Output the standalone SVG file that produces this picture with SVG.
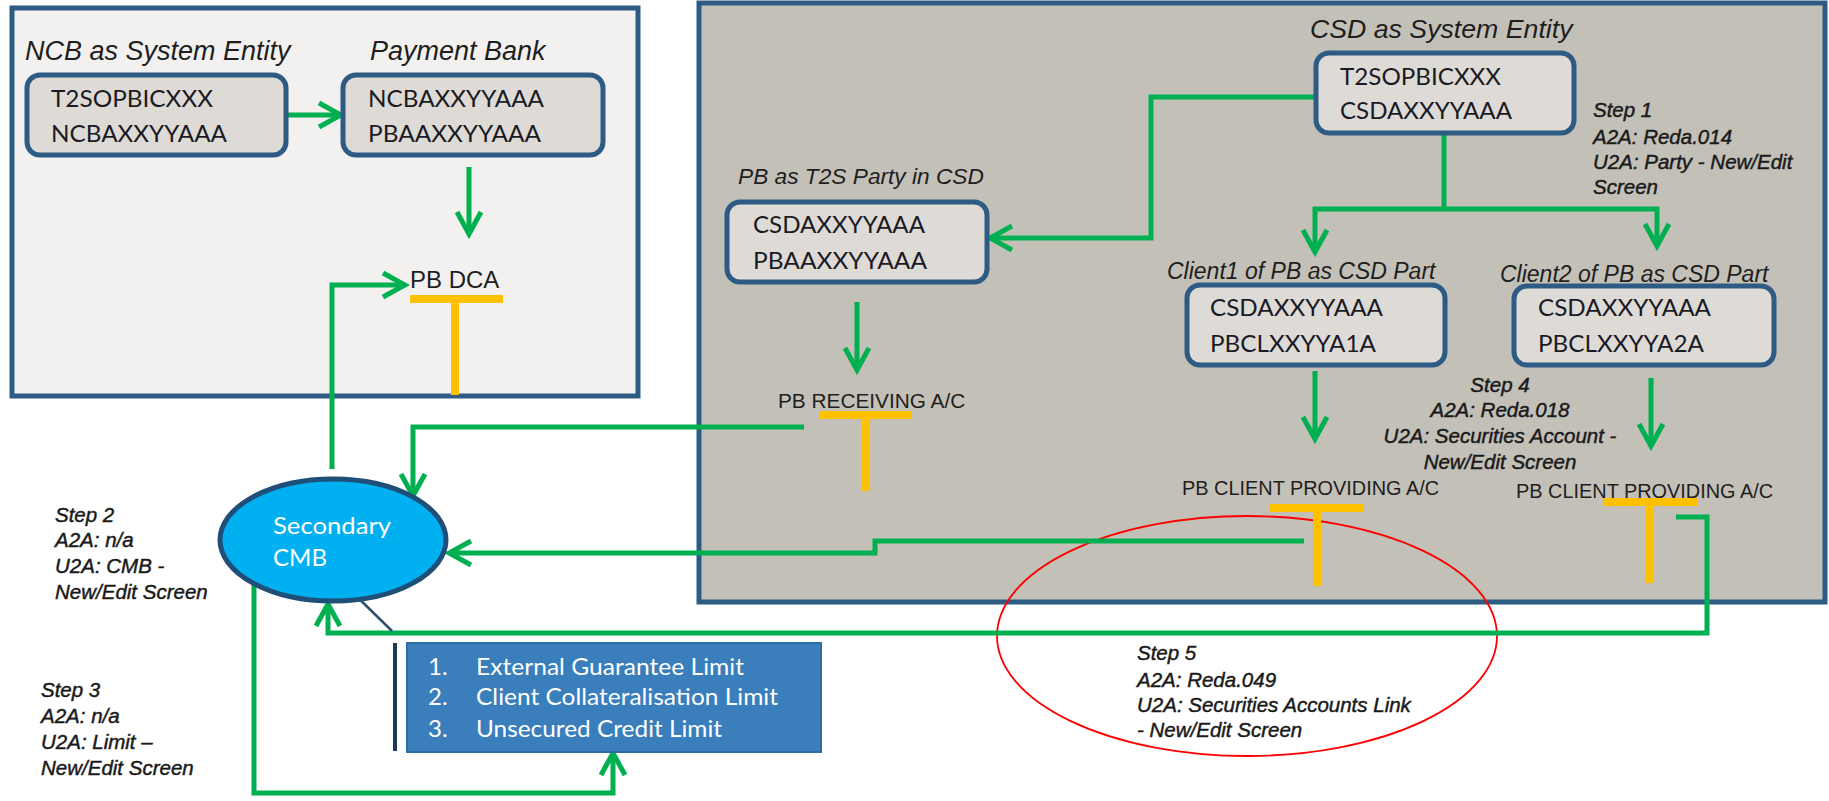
<svg xmlns="http://www.w3.org/2000/svg" width="1829" height="801" viewBox="0 0 1829 801">
<style>
.panel{stroke:#2e5b84;stroke-width:5}
.box{fill:#dedbd6;stroke:#2e5b84;stroke-width:5}
.bt{font-family:Lato,"Open Sans",sans-serif;font-size:24px;fill:#1a1a24}
.title{font-family:"Liberation Sans",Arial,sans-serif;font-style:italic;fill:#1e1e1e}
.lbl{font-family:"Liberation Sans",Arial,sans-serif;fill:#1e1e1e}
.step{font-family:"Liberation Sans",Arial,sans-serif;font-style:italic;font-size:20.5px;fill:#1a1a1a;stroke:#1a1a1a;stroke-width:0.45}
.g{fill:none;stroke:#00b050;stroke-width:5}
.ga{fill:none;stroke:#00b050;stroke-width:5;marker-end:url(#arr)}
.o{fill:none;stroke:#ffc000;stroke-width:8}
.wt{font-family:Lato,"Open Sans",sans-serif;font-size:24px;fill:#ffffff}
</style>
<defs>
<marker id="arr" markerUnits="userSpaceOnUse" viewBox="0 0 30 30" refX="25" refY="15" markerWidth="30" markerHeight="30" orient="auto">
<path d="M3,3 L25,15 L3,27" fill="none" stroke="#00b050" stroke-width="5" stroke-linejoin="miter"/>
</marker>
</defs>
<rect width="1829" height="801" fill="#ffffff"/>
<g id="ncb-panel">
<rect class="panel" x="12" y="8" width="626" height="388" fill="#f2f1ef"/>
</g>
<g id="csd-panel">
<rect class="panel" x="699" y="3" width="1126" height="599" fill="#c3c0b8"/>
</g>
<g id="step5-highlight">
<ellipse cx="1247" cy="636" rx="250" ry="120" fill="none" stroke="#ff0000" stroke-width="1.8"/>
</g>
<g id="connectors">
<path class="ga" d="M286,115 L341,115"/>
<path class="ga" d="M469,167 L469,234"/>
<path class="ga" d="M332,469 L332,285 L405,285"/>
<path class="ga" d="M1316,97 L1151,97 L1151,238 L990,238"/>
<path class="g" d="M1444,133 L1444,209"/>
<path class="ga" d="M1444,209 L1315,209 L1315,252"/>
<path class="ga" d="M1444,209 L1657,209 L1657,246"/>
<path class="ga" d="M857,302 L857,370"/>
<path class="ga" d="M1315,371 L1315,439"/>
<path class="ga" d="M1651,378 L1651,446"/>
<path class="ga" d="M804,427 L413,427 L413,496"/>
<path class="ga" d="M1304,541 L875,541 L875,553 L449,553"/>
<path class="ga" d="M1676,517 L1707,517 L1707,633 L328,633 L328,604"/>
<path class="ga" d="M254,583 L254,793 L613,793 L613,753"/>
<path d="M345,585 L392,631" stroke="#2f4f6f" stroke-width="2.5" fill="none"/>
</g>
<g id="ncb-system-entity">
<text class="title" x="25" y="60" font-size="27">NCB as System Entity</text>
<rect class="box" x="27" y="75" width="259" height="80" rx="13"/>
<text class="bt" x="51" y="107" textLength="162" lengthAdjust="spacingAndGlyphs">T2SOPBICXXX</text>
<text class="bt" x="51" y="142" textLength="176" lengthAdjust="spacingAndGlyphs">NCBAXXYYAAA</text>
</g>
<g id="payment-bank">
<text class="title" x="370" y="60" font-size="27">Payment Bank</text>
<rect class="box" x="343" y="75" width="260" height="80" rx="13"/>
<text class="bt" x="368" y="107" textLength="176" lengthAdjust="spacingAndGlyphs">NCBAXXYYAAA</text>
<text class="bt" x="368" y="142" textLength="173" lengthAdjust="spacingAndGlyphs">PBAAXXYYAAA</text>
</g>
<g id="pb-dca">
<text class="lbl" x="410" y="288" font-size="24">PB DCA</text>
<path class="o" d="M410,299 H503 M455,299 V395"/>
</g>
<g id="csd-system-entity">
<text class="title" x="1310" y="38" font-size="26.7">CSD as System Entity</text>
<rect class="box" x="1316" y="53" width="258" height="80" rx="13"/>
<text class="bt" x="1340" y="85" textLength="161" lengthAdjust="spacingAndGlyphs">T2SOPBICXXX</text>
<text class="bt" x="1340" y="119" textLength="172" lengthAdjust="spacingAndGlyphs">CSDAXXYYAAA</text>
</g>
<g id="pb-t2s-party">
<text class="title" x="738" y="184" font-size="22.7">PB as T2S Party in CSD</text>
<rect class="box" x="727" y="202" width="260" height="80" rx="13"/>
<text class="bt" x="753" y="233" textLength="172" lengthAdjust="spacingAndGlyphs">CSDAXXYYAAA</text>
<text class="bt" x="753" y="269" textLength="174" lengthAdjust="spacingAndGlyphs">PBAAXXYYAAA</text>
</g>
<g id="client1">
<text class="title" x="1167" y="279" font-size="23">Client1 of PB as CSD Part</text>
<rect class="box" x="1187" y="285" width="258" height="80" rx="13"/>
<text class="bt" x="1210" y="316" textLength="173" lengthAdjust="spacingAndGlyphs">CSDAXXYYAAA</text>
<text class="bt" x="1210" y="352" textLength="166" lengthAdjust="spacingAndGlyphs">PBCLXXYYA1A</text>
</g>
<g id="client2">
<text class="title" x="1500" y="282" font-size="23">Client2 of PB as CSD Part</text>
<rect class="box" x="1514" y="286" width="260" height="79" rx="13"/>
<text class="bt" x="1538" y="316" textLength="173" lengthAdjust="spacingAndGlyphs">CSDAXXYYAAA</text>
<text class="bt" x="1538" y="352" textLength="166" lengthAdjust="spacingAndGlyphs">PBCLXXYYA2A</text>
</g>
<g id="pb-receiving">
<text class="lbl" x="778" y="408" font-size="20.8">PB RECEIVING A/C</text>
<path class="o" d="M820,415 H911 M866,415 V491"/>
</g>
<g id="pb-client-providing-1">
<text class="lbl" x="1182" y="495" font-size="19.9">PB CLIENT PROVIDING A/C</text>
<path class="o" d="M1270,508 H1364 M1317,508 V586"/>
</g>
<g id="pb-client-providing-2">
<text class="lbl" x="1516" y="498" font-size="19.9">PB CLIENT PROVIDING A/C</text>
<path class="o" d="M1603,502 H1697 M1650,502 V583"/>
</g>
<g id="secondary-cmb">
<ellipse cx="333" cy="540" rx="113" ry="61" fill="#00b0f0" stroke="#1f4e79" stroke-width="5"/>
<text class="wt" x="273" y="534" textLength="118" lengthAdjust="spacingAndGlyphs">Secondary</text>
<text class="wt" x="273" y="566" textLength="54" lengthAdjust="spacingAndGlyphs">CMB</text>
</g>
<g id="limits-list">
<path d="M395,643 V751" stroke="#1f3a5a" stroke-width="4" fill="none"/>
<rect x="407" y="643" width="414" height="109" fill="#3a7ebb" stroke="#2d6da5" stroke-width="2"/>
<text class="wt" x="428" y="675">1.</text>
<text class="wt" x="476" y="675" textLength="268" lengthAdjust="spacingAndGlyphs">External Guarantee Limit</text>
<text class="wt" x="428" y="705">2.</text>
<text class="wt" x="476" y="705" textLength="302" lengthAdjust="spacingAndGlyphs">Client Collateralisation Limit</text>
<text class="wt" x="428" y="737">3.</text>
<text class="wt" x="476" y="737" textLength="246" lengthAdjust="spacingAndGlyphs">Unsecured Credit Limit</text>
</g>
<g id="step1">
<text class="step" x="1593" y="117">Step 1</text>
<text class="step" x="1593" y="144">A2A: Reda.014</text>
<text class="step" x="1593" y="169">U2A: Party - New/Edit</text>
<text class="step" x="1593" y="194">Screen</text>
</g>
<g id="step2">
<text class="step" x="55" y="522" font-size="21.5">Step 2</text>
<text class="step" x="55" y="547" font-size="21.5">A2A: n/a</text>
<text class="step" x="55" y="573" font-size="21.5">U2A: CMB -</text>
<text class="step" x="55" y="599" font-size="21.5">New/Edit Screen</text>
</g>
<g id="step3">
<text class="step" x="41" y="697" font-size="21.5">Step 3</text>
<text class="step" x="41" y="723" font-size="21.5">A2A: n/a</text>
<text class="step" x="41" y="749" font-size="21.5">U2A: Limit –</text>
<text class="step" x="41" y="775" font-size="21.5">New/Edit Screen</text>
</g>
<g id="step4" text-anchor="middle">
<text class="step" x="1500" y="392">Step 4</text>
<text class="step" x="1500" y="417">A2A: Reda.018</text>
<text class="step" x="1500" y="443">U2A: Securities Account -</text>
<text class="step" x="1500" y="469">New/Edit Screen</text>
</g>
<g id="step5">
<text class="step" x="1137" y="660">Step 5</text>
<text class="step" x="1137" y="687">A2A: Reda.049</text>
<text class="step" x="1137" y="712">U2A: Securities Accounts Link</text>
<text class="step" x="1137" y="737">- New/Edit Screen</text>
</g>
</svg>
